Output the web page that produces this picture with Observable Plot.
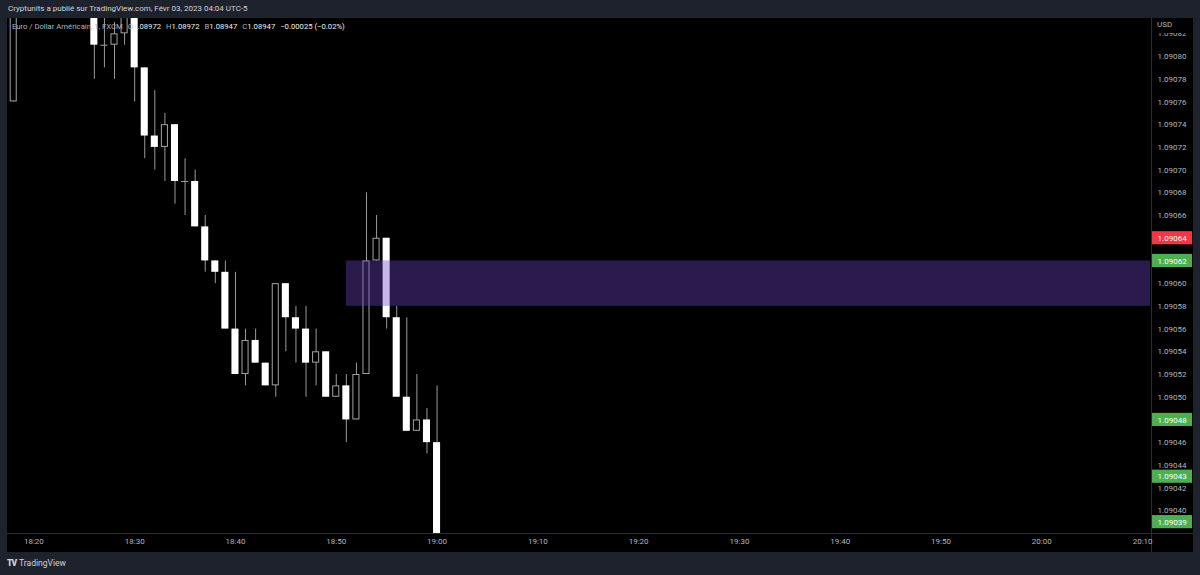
<!DOCTYPE html>
<html><head><meta charset="utf-8">
<script src="https://cdn.jsdelivr.net/npm/d3@7"></script>
<script src="https://cdn.jsdelivr.net/npm/@observablehq/plot@0.6"></script>
<style>
html,body{margin:0;padding:0;background:#1e222d;width:1200px;height:575px;overflow:hidden;font-family:Roboto,"Liberation Sans",Arial,sans-serif;}
#header{position:absolute;left:8px;top:4px;font-size:8px;color:#d1d4dc;white-space:nowrap;}
#chart{position:absolute;left:7px;top:18px;}
#legend{position:absolute;left:12px;top:22px;font-size:7.7px;color:#b2b5be;white-space:nowrap;}
#legend .v{color:#eeeeee;margin-right:5px}
#legend .k{margin-right:0}
#usd{position:absolute;left:1152px;top:19px;width:34px;height:14px;background:#000;color:#b2b5be;font-size:8px;padding-left:5px;line-height:12px}
#footer{position:absolute;left:7px;top:558px;color:#d1d4dc;font-size:8.5px;white-space:nowrap}
#footer .logo{font-weight:900;letter-spacing:-1px;margin-right:3px}
</style></head><body>
<div id="header">Cryptunits a publié sur TradingView.com, Févr 03, 2023 04:04 UTC-5</div>
<div id="chart"></div>
<div id="legend"><span style="margin-right:5px">Euro / Dollar Américain, 1, FXCM</span><span class="k">O</span><span class="v">1.08972</span><span class="k">H</span><span class="v">1.08972</span><span class="k">B</span><span class="v">1.08947</span><span class="k">C</span><span class="v">1.08947</span><span class="v">−0.00025 (−0.02%)</span></div>
<div id="usd">USD</div>
<div id="footer"><span class="logo">TV</span>TradingView</div>
<script>
// ---- data (1-minute candles, EUR/USD) ----
const times  = ["18:18","18:26","18:27","18:28","18:29","18:30","18:31","18:32","18:33","18:34","18:35","18:36","18:37","18:38","18:39","18:40","18:41","18:42","18:43","18:44","18:45","18:46","18:47","18:48","18:49","18:50","18:51","18:52","18:53","18:54","18:55","18:56","18:57","18:58","18:59","19:00"];
const opens  = [1.09076,1.09086,1.09081,1.09081,1.09082,1.09085,1.09079,1.09073,1.09072,1.09074,1.09069,1.09069,1.09065,1.09062,1.09061,1.09056,1.09052,1.09055,1.09053,1.09051,1.09060,1.09057,1.09056,1.09053,1.09054,1.09050,1.09051,1.09048,1.09052,1.09062,1.09064,1.09057,1.09050,1.09047,1.09048,1.09046];
const highs  = [1.09086,1.09088,1.09085,1.09083,1.09087,1.09086,1.09079,1.09077,1.09075,1.09074,1.09071,1.09070,1.09066,1.09062,1.09062,1.09061,1.09056,1.09056,1.09053,1.09060,1.09060,1.09058,1.09058,1.09056,1.09054,1.09052,1.09052,1.09053,1.09068,1.09066,1.09064,1.09058,1.09057,1.09052,1.09049,1.09051];
const lows   = [1.09076,1.09078,1.09079,1.09078,1.09081,1.09076,1.09071,1.09070,1.09069,1.09067,1.09066,1.09065,1.09061,1.09060,1.09056,1.09052,1.09051,1.09053,1.09051,1.09050,1.09054,1.09053,1.09050,1.09051,1.09050,1.09050,1.09046,1.09048,1.09052,1.09062,1.09056,1.09050,1.09047,1.09047,1.09045,1.09036];
const closes = [1.09085,1.09081,1.09081,1.09082,1.09085,1.09079,1.09073,1.09072,1.09074,1.09069,1.09069,1.09065,1.09062,1.09061,1.09056,1.09052,1.09055,1.09053,1.09051,1.09060,1.09057,1.09056,1.09053,1.09054,1.09050,1.09051,1.09048,1.09052,1.09062,1.09064,1.09057,1.09050,1.09047,1.09048,1.09046,1.09037];

// zone (rectangle drawing)
const zoneStart = "18:51";
const zoneLow = 1.09058, zoneHigh = 1.09062;

// price axis
const priceTicks = [1.09082,1.09080,1.09078,1.09076,1.09074,1.09072,1.09070,1.09068,1.09066,1.09060,1.09058,1.09056,1.09054,1.09052,1.09050,1.09046,1.09044,1.09042,1.09040];
const badgeValues = [1.09064,1.09062,1.09048,1.09043,1.09039];
const badgeColors = ["#f23645","#4caf50","#4caf50","#4caf50","#4caf50"];
// time axis
const timeTicks = ["18:20","18:30","18:40","18:50","19:00","19:10","19:20","19:30","19:40","19:50","20:00","20:10"];
const viewRange = ["18:17:23","20:10:47"];
const priceRange = [1.090380, 1.0908335];

// ---- build ----
const base = Date.UTC(2023,1,2);
const toDate = s => { const p = s.split(":").map(Number); return new Date(base + ((p[0]*60+p[1])*60 + (p[2]||0))*1000); };
const candles = times.map((t,i)=>({t:toDate(t), o:opens[i], h:highs[i], l:lows[i], c:closes[i]}));
const half = 21000; // half candle width in ms
const bears = candles.filter(d=>d.c<d.o), bulls = candles.filter(d=>d.c>d.o), dojis = candles.filter(d=>d.c===d.o);
const x1 = d=>new Date(+d.t-half), x2 = d=>new Date(+d.t+half);
const xDom = viewRange.map(toDate);
const xEnd = xDom[1];
const sec = 1000;
const badges = badgeValues.map((v,i)=>({v, color: badgeColors[i]}));
const badgeH = 0.0000058;
const wick = "#9a9a9a", hollow = "#a3a3a3";

const chart = Plot.plot({
  width: 1186, height: 534,
  marginTop: 0, marginBottom: 19, marginLeft: 0, marginRight: 43,
  style: {background: "#000", color: "#b2b5be", fontFamily: "Roboto, 'Liberation Sans', sans-serif", overflow: "visible"},
  x: {type: "utc", domain: xDom},
  y: {domain: priceRange},
  marks: [
    Plot.ruleX(candles, {x: "t", y1: "l", y2: "h", stroke: wick, strokeWidth: 1, clip: true}),
    Plot.rect(bears, {x1, x2, y1: "o", y2: "c", fill: "#ffffff", clip: true}),
    Plot.rect(bulls, {x1, x2, y1: "o", y2: "c", fill: "#000", stroke: hollow, strokeWidth: 1, inset: 0.5, clip: true}),
    Plot.ruleY(dojis, {y: "o", x1, x2, stroke: hollow, clip: true}),
    Plot.rect([{a: toDate(zoneStart), b: xEnd, lo: zoneLow, hi: zoneHigh}], {x1: "a", x2: "b", y1: "lo", y2: "hi", fill: "#7046c8", fillOpacity: 0.384, clip: true}),
    Plot.ruleY([priceRange[0]], {stroke: "#2a2e39", insetRight: -43}),
    Plot.ruleX([xEnd], {stroke: "#2a2e39", dx: 1, insetBottom: -19}),
    Plot.axisY(priceTicks, {anchor: "right", tickSize: 0, tickPadding: 7, tickFormat: d => d.toFixed(5), fontSize: 8, fill: "#b2b5be", textAnchor: "start"}),
    Plot.axisX(timeTicks.map(toDate), {anchor: "bottom", tickSize: 0, tickPadding: 5, tickFormat: d3.utcFormat("%H:%M"), fontSize: 8, fill: "#b2b5be"}),
    Plot.rect(badges, {x1: () => new Date(+xEnd + 12*sec), x2: () => new Date(+xEnd + 250*sec), y1: d => d.v - badgeH, y2: d => d.v + badgeH, fill: "color"}),
    Plot.text(badges, {x: () => new Date(+xEnd + 42*sec), y: "v", text: d => d.v.toFixed(5), fill: "#ffffff", fontSize: 8, textAnchor: "start"})
  ]
});
document.getElementById("chart").appendChild(chart);
</script>
</body></html>
